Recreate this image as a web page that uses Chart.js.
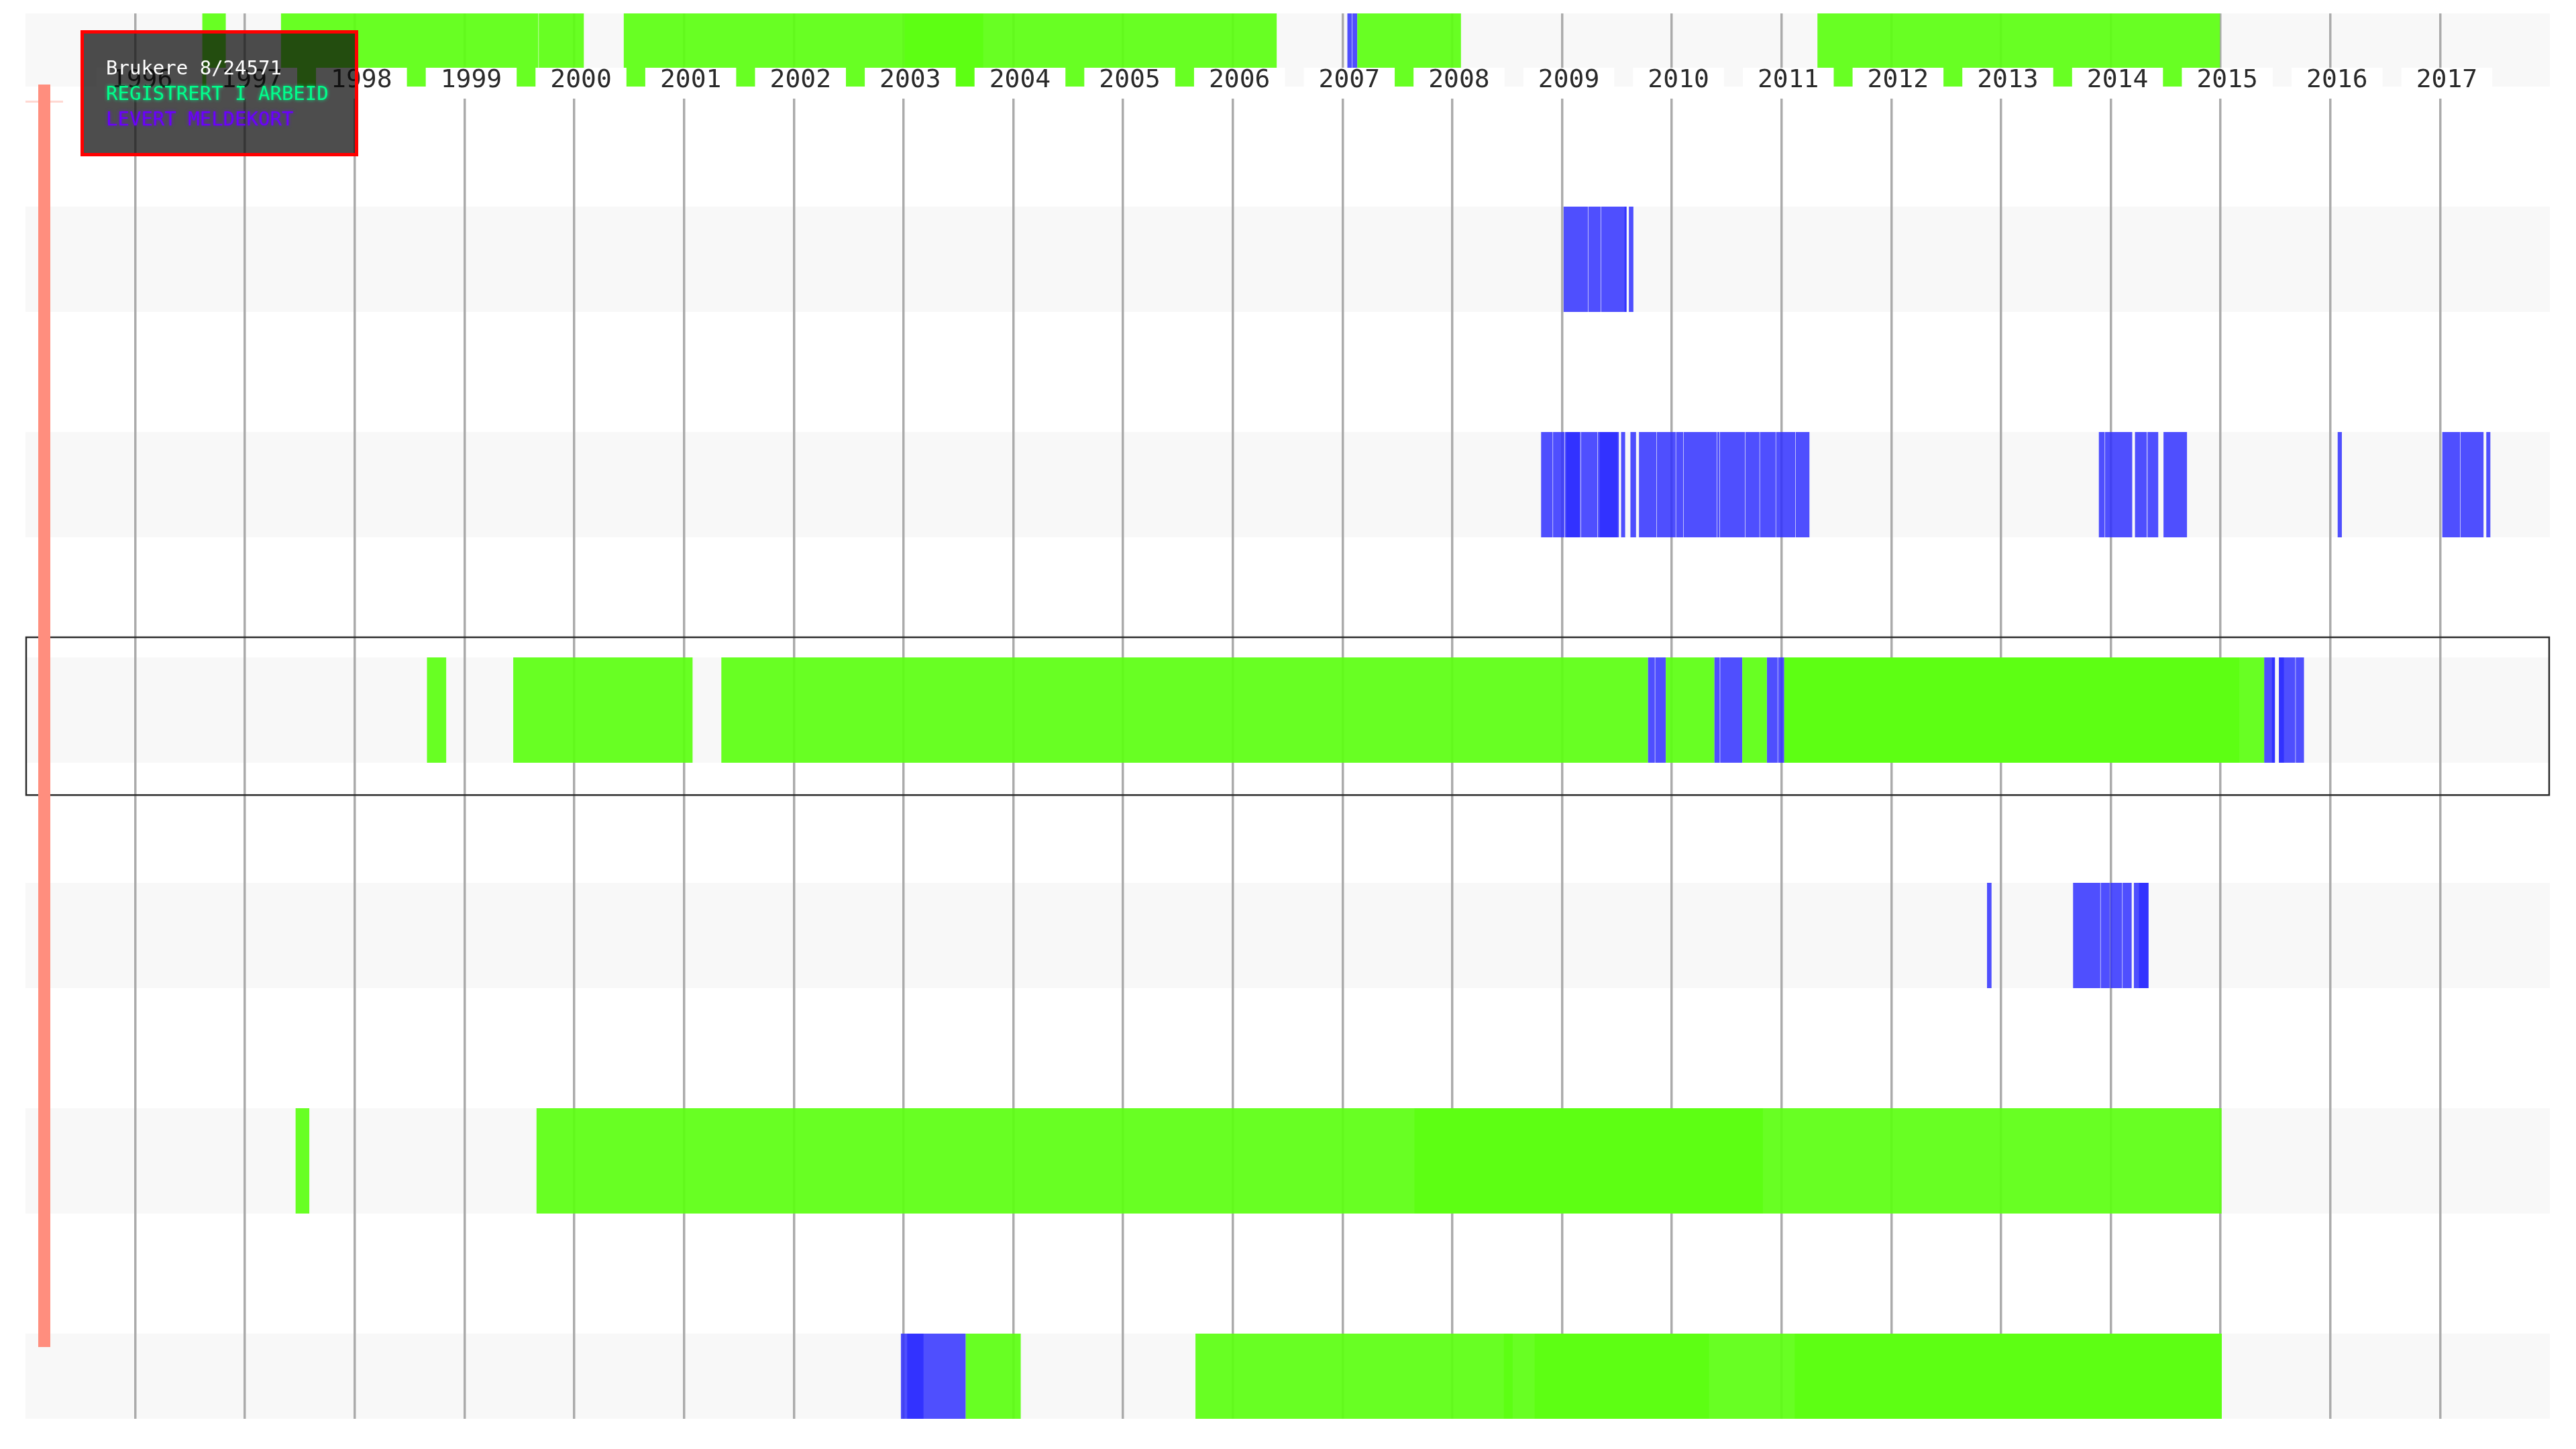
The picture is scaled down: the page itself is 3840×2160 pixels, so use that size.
<!DOCTYPE html>
<html>
<head>
<meta charset="utf-8">
<title>Brukere 8/24571</title>
<script src="https://cdn.jsdelivr.net/npm/chart.js@4.4.1/dist/chart.umd.min.js"></script>
<style>
  html, body { margin: 0; padding: 0; background: #ffffff; }
  #wrap { position: relative; width: 3840px; height: 2160px; overflow: hidden; }
  #chart { position: absolute; left: 0; top: 0; }
  #scroll { position: absolute; left: 57px; top: 126px; width: 18px; height: 1882px; background: #ff8e7e; }
  #scrollTick { position: absolute; left: 38px; top: 150px; width: 56px; height: 3px; background: rgba(255,142,126,0.35); }
  #info {
    position: absolute; left: 120px; top: 45px; width: 414px; height: 188px; box-sizing: border-box;
    border: 5px solid #ff0000; background: rgba(8,8,8,0.72);
    padding: 32px 0 0 33px;
    font-family: 'DejaVu Sans Mono', monospace; font-size: 29px; line-height: 38px; white-space: pre;
  }
  #info .t { color: #ffffff; }
  #info .g { color: #00ff8c; text-shadow: 0 0 5px rgba(0,255,140,0.8); }
  #info .b { color: #6a00ff; text-shadow: 0 0 5px rgba(106,0,255,0.8); }
</style>
</head>
<body>
<div id="wrap">
  <canvas id="chart" width="3840" height="2160"></canvas>
  <div id="scrollTick"></div>
  <div id="scroll"></div>
  <div id="info"><div class="t" id="infoTitle"></div><div class="g" id="infoA"></div><div class="b" id="infoB"></div></div>
</div>
<script>
// ---- data (years as decimal values) ----
const years = [1996, 1997, 1998, 1999, 2000, 2001, 2002, 2003, 2004, 2005, 2006,
               2007, 2008, 2009, 2010, 2011, 2012, 2013, 2014, 2015, 2016, 2017];
const rowIds = [0, 1, 2, 3, 4, 5, 6];
const selectedRow = 3;
const titleText = 'Brukere 8/24571';
const seriesNames = ['REGISTRERT I ARBEID', 'LEVERT MELDEKORT'];

// REGISTRERT I ARBEID, per row: [start, end]
const arbeid0 = [[1996.611, 1996.825], [1997.328, 1999.673], [1999.677, 2000.087], [2000.451, 2006.400],
                 [2003.011, 2003.726], [2007.134, 2008.079], [2011.327, 2014.994]];
const arbeid1 = [];
const arbeid2 = [];
const arbeid3 = [[1998.658, 1998.833], [1999.444, 2001.078], [2001.340, 2009.782], [2009.945, 2010.387],
                 [2010.642, 2010.866], [2011.025, 2015.397], [2011.025, 2015.170]];
const arbeid4 = [];
const arbeid5 = [[1997.461, 1997.586], [1999.656, 2010.830], [2007.655, 2015.009]];
const arbeid6 = [[2003.567, 2004.068], [2005.660, 2010.340], [2008.750, 2015.010], [2011.120, 2015.010],
                 [2008.470, 2008.550]];

// LEVERT MELDEKORT, per row: [start, end]
const meldekort0 = [[2007.044, 2007.086], [2007.090, 2007.134]];
const meldekort1 = [[2009.014, 2009.235], [2009.239, 2009.353], [2009.357, 2009.587], [2009.570, 2009.587],
                    [2009.609, 2009.650]];
const meldekort2 = [[2008.809, 2008.914], [2008.918, 2009.022], [2009.026, 2009.169], [2009.037, 2009.159],
                    [2009.173, 2009.322], [2009.326, 2009.518], [2009.342, 2009.507], [2009.538, 2009.575],
                    [2009.623, 2009.674], [2009.701, 2009.860], [2009.864, 2010.035], [2010.039, 2010.104],
                    [2010.108, 2010.410], [2010.414, 2010.434], [2010.438, 2010.667], [2010.671, 2010.799],
                    [2010.803, 2010.946], [2010.950, 2011.125], [2011.129, 2011.254],
                    [2013.891, 2013.944], [2013.948, 2014.195], [2014.220, 2014.328], [2014.334, 2014.432],
                    [2014.480, 2014.694], [2016.067, 2016.105],
                    [2017.020, 2017.182], [2017.186, 2017.396], [2017.421, 2017.458]];
const meldekort3 = [[2009.782, 2009.845], [2009.849, 2009.945], [2010.387, 2010.437], [2010.441, 2010.642],
                    [2010.866, 2010.964], [2010.968, 2011.025], [2015.397, 2015.495], [2015.468, 2015.495],
                    [2015.532, 2015.681], [2015.532, 2015.577], [2015.685, 2015.760]];
const meldekort4 = [[2012.872, 2012.913], [2013.656, 2013.904], [2013.908, 2013.990], [2013.994, 2014.103],
                    [2014.107, 2014.190], [2014.210, 2014.343], [2014.257, 2014.343]];
const meldekort5 = [];
const meldekort6 = [[2002.976, 2003.567], [2003.033, 2003.182]];

// ---- build ----
const arbeidRows = [arbeid0, arbeid1, arbeid2, arbeid3, arbeid4, arbeid5, arbeid6];
const meldekortRows = [meldekort0, meldekort1, meldekort2, meldekort3, meldekort4, meldekort5, meldekort6];
const toPoints = rows => rows.flatMap((segs, r) => segs.map(s => ({ x: [s[0], s[1]], y: rowIds[r] })));

document.getElementById('infoTitle').textContent = titleText;
document.getElementById('infoA').textContent = seriesNames[0];
document.getElementById('infoB').textContent = seriesNames[1];

const BAR_PCT = 0.4673;

const rowBands = {
  id: 'rowBands',
  beforeDraw(chart) {
    const { ctx, chartArea: a, scales: { y } } = chart;
    const h = Math.abs(y.getPixelForValue(1) - y.getPixelForValue(0)) * BAR_PCT;
    ctx.save();
    ctx.beginPath();
    ctx.rect(a.left, a.top, a.right - a.left, a.bottom - a.top);
    ctx.clip();
    ctx.fillStyle = '#f8f8f8';
    rowIds.forEach(r => {
      const c = y.getPixelForValue(r);
      ctx.fillRect(a.left, c - h / 2, a.right - a.left, h);
    });
    ctx.restore();
  }
};

const selectionBox = {
  id: 'selectionBox',
  afterDatasetsDraw(chart) {
    const { ctx, chartArea: a, scales: { y } } = chart;
    const unit = Math.abs(y.getPixelForValue(1) - y.getPixelForValue(0));
    const c = y.getPixelForValue(selectedRow);
    ctx.save();
    ctx.strokeStyle = '#2b2b2b';
    ctx.lineWidth = 2.5;
    ctx.strokeRect(a.left + 1, c - unit * 0.323, a.right - a.left - 2, unit * 0.70);
    ctx.restore();
  }
};

const common = {
  grouped: false,
  categoryPercentage: 1,
  barPercentage: BAR_PCT,
  borderWidth: 0,
  inflateAmount: 0,
  clip: 0
};

new Chart(document.getElementById('chart'), {
  type: 'bar',
  data: {
    datasets: [
      Object.assign({ label: seriesNames[0], data: toPoints(arbeidRows), backgroundColor: 'rgba(92,255,18,0.93)' }, common),
      Object.assign({ label: seriesNames[1], data: toPoints(meldekortRows), backgroundColor: 'rgba(45,45,255,0.83)' }, common)
    ]
  },
  options: {
    indexAxis: 'y',
    responsive: false,
    maintainAspectRatio: false,
    animation: false,
    devicePixelRatio: 1,
    events: [],
    layout: { padding: { left: 38, right: 39, top: 20, bottom: 45 } },
    plugins: { legend: { display: false }, tooltip: { enabled: false } },
    scales: {
      y: {
        type: 'linear', reverse: true, min: -0.0908, max: 6.1443, display: false, offset: false,
        ticks: { stepSize: 1, includeBounds: false },
        grid: { display: false, offset: false }
      },
      x: {
        type: 'linear', min: 1995, max: 2018, offset: false,
        position: { y: 0.1503 },
        afterBuildTicks: s => { s.ticks = years.map(v => ({ value: v })); },
        grid: { color: '#ababab', lineWidth: 3.5, drawTicks: false, z: -1 },
        border: { display: false },
        ticks: {
          z: 1, padding: 0, labelOffset: 10, color: '#2a2a2a',
          autoSkip: false, maxRotation: 0, minRotation: 0,
          font: { family: 'DejaVu Sans Mono', size: 38, lineHeight: 1 },
          showLabelBackdrop: true, backdropColor: '#ffffff',
          backdropPadding: { top: 0, bottom: 8, left: 22, right: 22 },
          callback: v => String(v)
        }
      }
    }
  },
  plugins: [rowBands, selectionBox]
});
</script>
</body>
</html>
